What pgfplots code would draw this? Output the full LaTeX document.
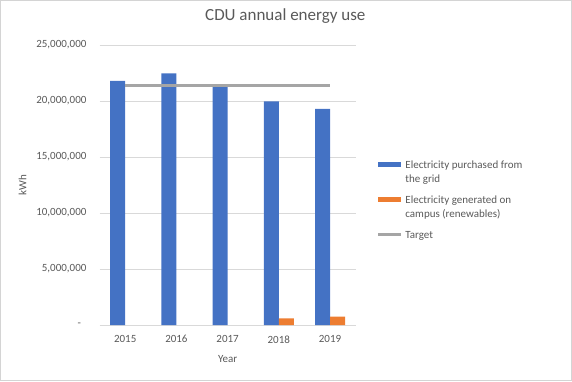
\documentclass[border=0pt]{standalone}
\usepackage{fontspec}
\setmainfont{Carlito}
\usepackage{pgfplots}
\pgfplotsset{compat=1.18}
\definecolor{barblue}{RGB}{68,114,196}
\definecolor{barorange}{RGB}{237,125,49}
\definecolor{targetgray}{RGB}{165,165,165}
\definecolor{txt}{RGB}{89,89,89}
\definecolor{gridc}{RGB}{217,217,217}
\definecolor{framec}{RGB}{212,212,212}
\begin{document}
\begin{tikzpicture}
\path[use as bounding box] (0,0) rectangle (572pt,381pt);
\draw[framec, line width=1pt] (0.5pt,0.5pt) rectangle (571.5pt,380.5pt);
\begin{axis}[
  at={(99.6pt,56pt)}, anchor=south west,
  width=256pt, height=280pt, scale only axis,
  xmin=-0.5, xmax=4.5, ymin=0, ymax=25000000,
  enlargelimits=false,
  axis line style={draw=none},
  xtick={0,1,2,3,4}, xticklabels={2015,2016,2017,2018,2019},
  ytick={0,5000000,10000000,15000000,20000000,25000000},
  yticklabels={{-\kern5.5pt},{5,000,000},{10,000,000},{15,000,000},{20,000,000},{25,000,000}},
  scaled y ticks=false,
  major tick length=0pt,
  ymajorgrids, grid style={gridc, line width=0.8pt},
  tick label style={font=\fontsize{11}{13}\selectfont, text=txt},
  xticklabel style={anchor=center, inner sep=0pt, yshift=-14.3pt},
  yticklabel style={anchor=east, inner sep=0pt, xshift=-13pt},
  xlabel={Year},
  xlabel style={at={(axis description cs:0.5,-0.1214)}, anchor=center, font=\fontsize{11}{13}\selectfont, text=txt},
  ylabel={kWh},
  ylabel style={at={(axis description cs:-0.3008,0.5)}, anchor=center, font=\fontsize{11}{13}\selectfont, text=txt},
  title={CDU annual energy use},
  title style={at={(axis description cs:0.7254,1.0825)}, anchor=center, yshift=0pt, font=\fontsize{17}{20}\selectfont, text=txt},
  legend cell align=left,
  legend style={at={(axis description cs:1.0836,0.5846)}, anchor=north west,
    draw=none, fill=none, inner sep=0pt, outer sep=0pt,
    row sep=12.3pt, column sep=3pt,
    font=\fontsize{11}{13.4}\selectfont, text=txt,
    nodes={inner sep=0pt, align=left, text=txt}},
]
\addplot[ybar, bar width=15pt, bar shift=-7.5pt, fill=barblue, draw=none,
  legend image code/.code={\path[draw=none, fill=none] (0pt,-11pt) rectangle (23pt,11pt); \fill[barblue] (0pt,5.2pt) rectangle (23pt,10.7pt);}]
  coordinates {(0,21800000) (1,22470000) (2,21280000) (3,19970000) (4,19290000)};
\addlegendentry{Electricity purchased from\\the grid}
\addplot[ybar, bar width=15pt, bar shift=7.5pt, fill=barorange, draw=none,
  legend image code/.code={\path[draw=none, fill=none] (0pt,-11pt) rectangle (23pt,11pt); \fill[barorange] (0pt,5.2pt) rectangle (23pt,10.7pt);}]
  coordinates {(3,600000) (4,740000)};
\addlegendentry{Electricity generated on\\campus (renewables)}
\addplot[sharp plot, no marks, targetgray, line width=2.4pt,
  legend image code/.code={\draw[targetgray, line width=2.4pt] (0pt,0.6pt) -- (23pt,0.6pt);}]
  coordinates {(0,21370000) (1,21370000) (2,21370000) (3,21370000) (4,21370000)};
\addlegendentry{Target}
\end{axis}
\end{tikzpicture}
\end{document}
